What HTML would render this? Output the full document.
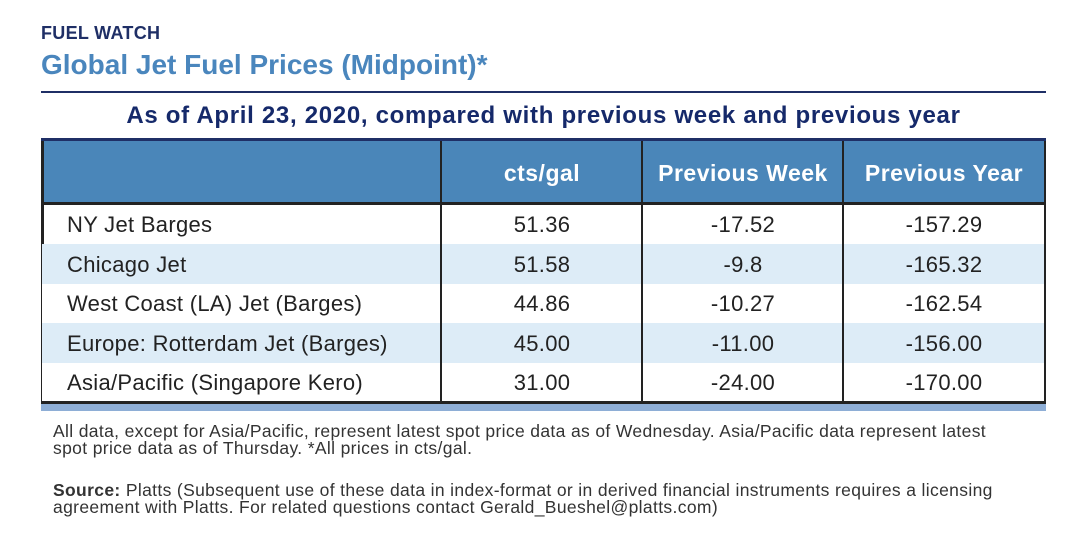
<!DOCTYPE html>
<html><head><meta charset="utf-8"><style>
*{margin:0;padding:0;box-sizing:border-box}
body{width:1070px;height:535px;background:#fff;position:relative;overflow:hidden;font-family:"Liberation Sans",sans-serif;color:#222}
.a{position:absolute;white-space:nowrap}
.c{position:absolute;text-align:center;font-size:22px;color:#222;letter-spacing:0.3px}
.l{position:absolute;left:67px;font-size:22px;color:#222;letter-spacing:0.3px}
.h{color:#fff;font-weight:bold;font-size:23px;letter-spacing:0.5px}
.note{font-family:"Liberation Sans Narrow","Liberation Sans",sans-serif;font-size:17.5px;line-height:17px;color:#333;letter-spacing:0.35px}
</style></head><body>
<div class="a" style="left:41px;top:23px;font-size:18px;font-weight:bold;color:#1f2f66;letter-spacing:0.3px">FUEL WATCH</div>
<div class="a" style="left:41px;top:49px;font-size:28px;font-weight:bold;color:#4a86bd;">Global Jet Fuel Prices (Midpoint)*</div>
<div class="a" style="left:41px;top:91px;width:1005px;height:2px;background:#1f2f66"></div>
<div class="a" style="left:41px;top:102px;width:1005px;text-align:center;font-size:24px;font-weight:bold;color:#15296a;letter-spacing:0.7px">As of April 23, 2020, compared with previous week and previous year</div>
<div class="a" style="left:41px;top:138px;width:1005px;height:3px;background:#1f2f66"></div>
<div class="a" style="left:41px;top:141px;width:1005px;height:62px;background:#4a86b9"></div>
<div class="a" style="left:41px;top:202px;width:1005px;height:3px;background:#222"></div>
<div class="a" style="left:41px;top:244px;width:1005px;height:40px;background:#ddecf7"></div>
<div class="a" style="left:41px;top:323px;width:1005px;height:40px;background:#ddecf7"></div>
<div class="a" style="left:41px;top:401px;width:1005px;height:3px;background:#222"></div>
<div class="a" style="left:41px;top:404px;width:1005px;height:7px;background:#8eaed6"></div>
<div class="a" style="left:41px;top:141px;width:3px;height:103px;background:#222"></div>
<div class="a" style="left:41px;top:244px;width:1px;height:158px;background:#222"></div>
<div class="a" style="left:440px;top:141px;width:2px;height:261px;background:#222"></div>
<div class="a" style="left:641px;top:141px;width:2px;height:261px;background:#222"></div>
<div class="a" style="left:842px;top:141px;width:2px;height:261px;background:#222"></div>
<div class="a" style="left:1044px;top:141px;width:2px;height:261px;background:#222"></div>
<div class="c h" style="left:442px;width:200px;top:160px">cts/gal</div>
<div class="c h" style="left:643px;width:200px;top:160px">Previous Week</div>
<div class="c h" style="left:844px;width:200px;top:160px">Previous Year</div>
<div class="l" style="top:212px">NY Jet Barges</div>
<div class="c" style="left:442px;width:200px;top:212px">51.36</div>
<div class="c" style="left:643px;width:200px;top:212px">-17.52</div>
<div class="c" style="left:844px;width:200px;top:212px">-157.29</div>
<div class="l" style="top:252px">Chicago Jet</div>
<div class="c" style="left:442px;width:200px;top:252px">51.58</div>
<div class="c" style="left:643px;width:200px;top:252px">-9.8</div>
<div class="c" style="left:844px;width:200px;top:252px">-165.32</div>
<div class="l" style="top:291px">West Coast (LA) Jet (Barges)</div>
<div class="c" style="left:442px;width:200px;top:291px">44.86</div>
<div class="c" style="left:643px;width:200px;top:291px">-10.27</div>
<div class="c" style="left:844px;width:200px;top:291px">-162.54</div>
<div class="l" style="top:331px">Europe: Rotterdam Jet (Barges)</div>
<div class="c" style="left:442px;width:200px;top:331px">45.00</div>
<div class="c" style="left:643px;width:200px;top:331px">-11.00</div>
<div class="c" style="left:844px;width:200px;top:331px">-156.00</div>
<div class="l" style="top:370px">Asia/Pacific (Singapore Kero)</div>
<div class="c" style="left:442px;width:200px;top:370px">31.00</div>
<div class="c" style="left:643px;width:200px;top:370px">-24.00</div>
<div class="c" style="left:844px;width:200px;top:370px">-170.00</div>
<div class="a note" style="left:53px;top:423px">All data, except for Asia/Pacific, represent latest spot price data as of Wednesday. Asia/Pacific data represent latest<br>spot price data as of Thursday. *All prices in cts/gal.</div>
<div class="a note" style="left:53px;top:482px"><b>Source:</b> Platts (Subsequent use of these data in index-format or in derived financial instruments requires a licensing<br>agreement with Platts. For related questions contact Gerald_Bueshel@platts.com)</div>
</body></html>
